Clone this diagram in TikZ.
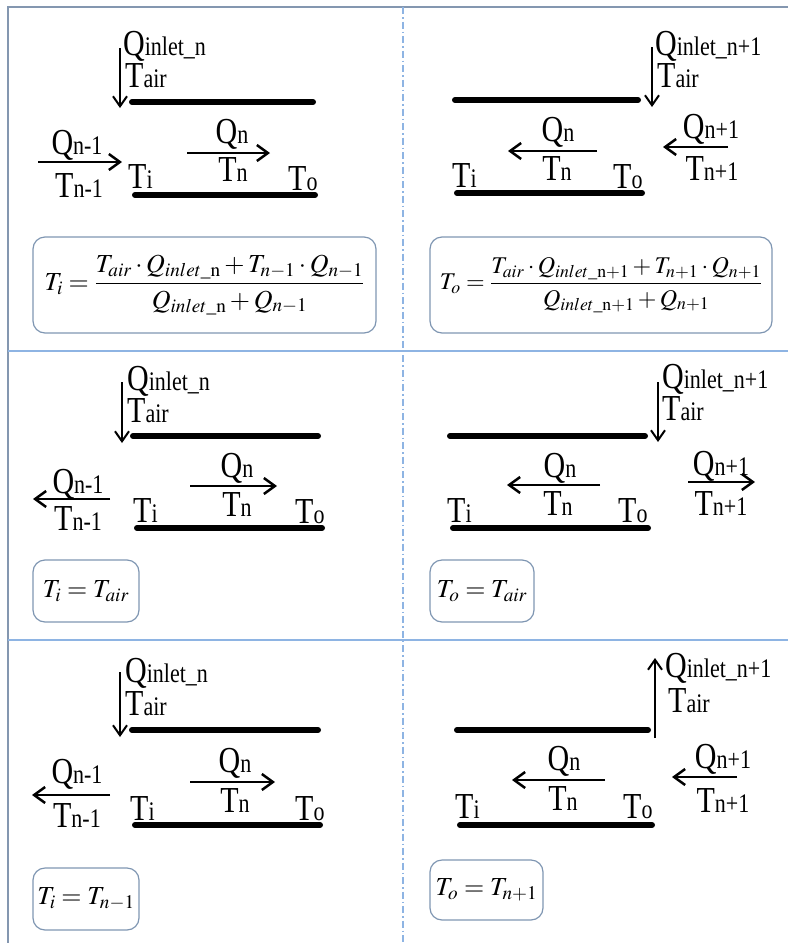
\documentclass[tikz,border=0pt]{standalone}
\usepackage{amsmath}
\usepackage{mathptmx}
\usepackage{fontspec}
\setmainfont{Liberation Serif}
\usepackage{xcolor}
\usepackage{tikz}
\usetikzlibrary{arrows.meta}
\definecolor{FrameGray}{HTML}{8497B0}
\definecolor{GridBlue}{HTML}{8EB4E3}
\definecolor{BoxGray}{HTML}{7F96B2}
\newcommand{\smtx}[1]{{\fontsize{22}{22}\selectfont #1}}

\begin{document}
\begin{tikzpicture}[x=1pt, y=-1pt,
        lbl/.style={font=\fontsize{30}{32}\selectfont, inner sep=0pt, yscale=1.22},
        bar/.style={line width=6pt, line cap=round},
        flow/.style={line width=2.5pt, -{Straight Barb[length=11pt,width=16pt]}},
        inflow/.style={line width=2pt, -{Straight Barb[length=10pt,width=14pt]}},
        eqbox/.style={draw=BoxGray, line width=1.2pt, rounded corners=12pt, inner sep=0pt, font=\fontsize{26}{28}\selectfont},
        grid/.style={draw=GridBlue, line width=1.2pt}
    ]
    \useasboundingbox (0,0) rectangle (788,943);
    % frame and dividers
    \draw [draw=FrameGray, line width=1.6pt] (8,943) -- (8,7) -- (788,7);
    \draw [grid] (8,351) -- (788,351);
    \draw [grid] (8,640) -- (788,640);
    \draw [grid, dash pattern=on 7pt off 3pt on 1.5pt off 3pt] (403,7) -- (403,943);

    % panel 1: inlet in, flow n-1 in
    \coordinate (in1s) at (120,48); \coordinate (in1e) at (120,108);
    \coordinate (up1a) at (132,102); \coordinate (up1b) at (313,102);
    \coordinate (lo1a) at (135,195); \coordinate (lo1b) at (315,195);
    \coordinate (prv1a) at (38,162); \coordinate (prv1b) at (122,162);
    \coordinate (cur1a) at (187,153); \coordinate (cur1b) at (270,153);
    \node [lbl, anchor=base west] (qin1) at (123,55) {Q\smtx{inlet\_n}};
    \node [lbl, anchor=base west] (tair1) at (125,87) {T\smtx{air}};
    \node [lbl, anchor=base] (qprv1) at (77,154) {Q\smtx{n-1}};
    \node [lbl, anchor=base] (tprv1) at (79,197) {T\smtx{n-1}};
    \node [lbl, anchor=base west] (ti1) at (128,188) {T\smtx{i}};
    \node [lbl, anchor=base] (qcur1) at (232,143) {Q\smtx{n}};
    \node [lbl, anchor=base] (tcur1) at (233,181) {T\smtx{n}};
    \node [lbl, anchor=base west] (to1) at (288,190) {T\smtx{o}};
    \node [eqbox, minimum width=343pt, minimum height=96pt] (eq1) at (204.5,285)
        {$T_i=\dfrac{T_{air}\cdot Q_{inlet\_\mathrm{n}}+T_{n-1}\cdot Q_{n-1}}{Q_{inlet\_\mathrm{n}}+Q_{n-1}}$};
    \draw [inflow] (in1s) -- (in1e);
    \draw [bar] (up1a) -- (up1b);
    \draw [bar] (lo1a) -- (lo1b);
    \draw [flow] (prv1a) -- (prv1b);
    \draw [flow] (cur1a) -- (cur1b);

    % panel 2: inlet in, flow n+1 in
    \coordinate (in2s) at (652,47); \coordinate (in2e) at (652,107);
    \coordinate (up2a) at (455,100); \coordinate (up2b) at (638,100);
    \coordinate (lo2a) at (457,193); \coordinate (lo2b) at (642,193);
    \coordinate (cur2a) at (597,151); \coordinate (cur2b) at (508,151);
    \coordinate (nxt2a) at (728,147); \coordinate (nxt2b) at (663,147);
    \node [lbl, anchor=base west] (qin2) at (655,55) {Q\smtx{inlet\_n+1}};
    \node [lbl, anchor=base west] (tair2) at (657,87) {T\smtx{air}};
    \node [lbl, anchor=base] (qcur2) at (558,141) {Q\smtx{n}};
    \node [lbl, anchor=base] (tcur2) at (557,180) {T\smtx{n}};
    \node [lbl, anchor=base west] (ti2) at (452,187) {T\smtx{i}};
    \node [lbl, anchor=base west] (to2) at (613,188) {T\smtx{o}};
    \node [lbl, anchor=base] (qnxt2) at (711,138) {Q\smtx{n+1}};
    \node [lbl, anchor=base] (tnxt2) at (712,180) {T\smtx{n+1}};
    \node [eqbox, minimum width=342pt, minimum height=96pt, font=\fontsize{24}{26}\selectfont] (eq2) at (601,285)
        {$T_o=\dfrac{T_{air}\cdot Q_{inlet\_\mathrm{n+1}}+T_{n+1}\cdot Q_{n+1}}{Q_{inlet\_\mathrm{n+1}}+Q_{n+1}}$};
    \draw [inflow] (in2s) -- (in2e);
    \draw [bar] (up2a) -- (up2b);
    \draw [bar] (lo2a) -- (lo2b);
    \draw [flow] (cur2a) -- (cur2b);
    \draw [flow] (nxt2a) -- (nxt2b);

    % panel 3: inlet in, flow n-1 out
    \coordinate (in3s) at (122,382); \coordinate (in3e) at (122,443);
    \coordinate (up3a) at (133,436); \coordinate (up3b) at (318,436);
    \coordinate (lo3a) at (137,528); \coordinate (lo3b) at (322,528);
    \coordinate (prv3a) at (110,499); \coordinate (prv3b) at (33,499);
    \coordinate (cur3a) at (190,486); \coordinate (cur3b) at (277,486);
    \node [lbl, anchor=base west] (qin3) at (127,390) {Q\smtx{inlet\_n}};
    \node [lbl, anchor=base west] (tair3) at (127,422) {T\smtx{air}};
    \node [lbl, anchor=base] (qprv3) at (78,493) {Q\smtx{n-1}};
    \node [lbl, anchor=base] (tprv3) at (78,530) {T\smtx{n-1}};
    \node [lbl, anchor=base west] (ti3) at (133,522) {T\smtx{i}};
    \node [lbl, anchor=base] (qcur3) at (237,477) {Q\smtx{n}};
    \node [lbl, anchor=base] (tcur3) at (237,516) {T\smtx{n}};
    \node [lbl, anchor=base west] (to3) at (295,523) {T\smtx{o}};
    \node [eqbox, minimum width=106pt, minimum height=62pt] (eq3) at (86,591) {$T_i=T_{air}$};
    \draw [inflow] (in3s) -- (in3e);
    \draw [bar] (up3a) -- (up3b);
    \draw [bar] (lo3a) -- (lo3b);
    \draw [flow] (prv3a) -- (prv3b);
    \draw [flow] (cur3a) -- (cur3b);

    % panel 4: inlet in, flow n+1 out
    \coordinate (in4s) at (658,382); \coordinate (in4e) at (658,442);
    \coordinate (up4a) at (450,436); \coordinate (up4b) at (645,436);
    \coordinate (lo4a) at (453,528); \coordinate (lo4b) at (648,528);
    \coordinate (cur4a) at (600,485); \coordinate (cur4b) at (507,485);
    \coordinate (nxt4a) at (688,482); \coordinate (nxt4b) at (755,482);
    \node [lbl, anchor=base west] (qin4) at (662,388) {Q\smtx{inlet\_n+1}};
    \node [lbl, anchor=base west] (tair4) at (662,420) {T\smtx{air}};
    \node [lbl, anchor=base] (qcur4) at (560,477) {Q\smtx{n}};
    \node [lbl, anchor=base] (tcur4) at (558,515) {T\smtx{n}};
    \node [lbl, anchor=base west] (ti4) at (447,522) {T\smtx{i}};
    \node [lbl, anchor=base west] (to4) at (618,522) {T\smtx{o}};
    \node [lbl, anchor=base] (qnxt4) at (721,475) {Q\smtx{n+1}};
    \node [lbl, anchor=base] (tnxt4) at (721,515) {T\smtx{n+1}};
    \node [eqbox, minimum width=104pt, minimum height=62pt] (eq4) at (482,591) {$T_o=T_{air}$};
    \draw [inflow] (in4s) -- (in4e);
    \draw [bar] (up4a) -- (up4b);
    \draw [bar] (lo4a) -- (lo4b);
    \draw [flow] (cur4a) -- (cur4b);
    \draw [flow] (nxt4a) -- (nxt4b);

    % panel 5: inlet in, flow n-1 out
    \coordinate (in5s) at (120,672); \coordinate (in5e) at (120,737);
    \coordinate (up5a) at (132,730); \coordinate (up5b) at (318,730);
    \coordinate (lo5a) at (135,825); \coordinate (lo5b) at (320,825);
    \coordinate (prv5a) at (110,795); \coordinate (prv5b) at (32,795);
    \coordinate (cur5a) at (190,782); \coordinate (cur5b) at (275,782);
    \node [lbl, anchor=base west] (qin5) at (125,682) {Q\smtx{inlet\_n}};
    \node [lbl, anchor=base west] (tair5) at (125,715) {T\smtx{air}};
    \node [lbl, anchor=base] (qprv5) at (77,783) {Q\smtx{n-1}};
    \node [lbl, anchor=base] (tprv5) at (77,827) {T\smtx{n-1}};
    \node [lbl, anchor=base west] (ti5) at (130,820) {T\smtx{i}};
    \node [lbl, anchor=base] (qcur5) at (235,772) {Q\smtx{n}};
    \node [lbl, anchor=base] (tcur5) at (235,812) {T\smtx{n}};
    \node [lbl, anchor=base west] (to5) at (295,820) {T\smtx{o}};
    \node [eqbox, minimum width=106pt, minimum height=62pt] (eq5) at (86,899) {$T_i=T_{n-1}$};
    \draw [inflow] (in5s) -- (in5e);
    \draw [bar] (up5a) -- (up5b);
    \draw [bar] (lo5a) -- (lo5b);
    \draw [flow] (prv5a) -- (prv5b);
    \draw [flow] (cur5a) -- (cur5b);

    % panel 6: inlet out, flow n+1 in
    \coordinate (in6s) at (655,738); \coordinate (in6e) at (655,658);
    \coordinate (up6a) at (457,730); \coordinate (up6b) at (648,730);
    \coordinate (lo6a) at (460,825); \coordinate (lo6b) at (652,825);
    \coordinate (cur6a) at (605,780); \coordinate (cur6b) at (512,780);
    \coordinate (nxt6a) at (737,777); \coordinate (nxt6b) at (672,777);
    \node [lbl, anchor=base west] (qin6) at (665,677) {Q\smtx{inlet\_n+1}};
    \node [lbl, anchor=base west] (tair6) at (668,712) {T\smtx{air}};
    \node [lbl, anchor=base] (qcur6) at (564,770) {Q\smtx{n}};
    \node [lbl, anchor=base] (tcur6) at (563,810) {T\smtx{n}};
    \node [lbl, anchor=base west] (ti6) at (455,818) {T\smtx{i}};
    \node [lbl, anchor=base west] (to6) at (623,818) {T\smtx{o}};
    \node [lbl, anchor=base] (qnxt6) at (723,768) {Q\smtx{n+1}};
    \node [lbl, anchor=base] (tnxt6) at (723,812) {T\smtx{n+1}};
    \node [eqbox, minimum width=113pt, minimum height=60pt] (eq6) at (486.5,890) {$T_o=T_{n+1}$};
    \draw [inflow] (in6s) -- (in6e);
    \draw [bar] (up6a) -- (up6b);
    \draw [bar] (lo6a) -- (lo6b);
    \draw [flow] (cur6a) -- (cur6b);
    \draw [flow] (nxt6a) -- (nxt6b);
\end{tikzpicture}
\end{document}
